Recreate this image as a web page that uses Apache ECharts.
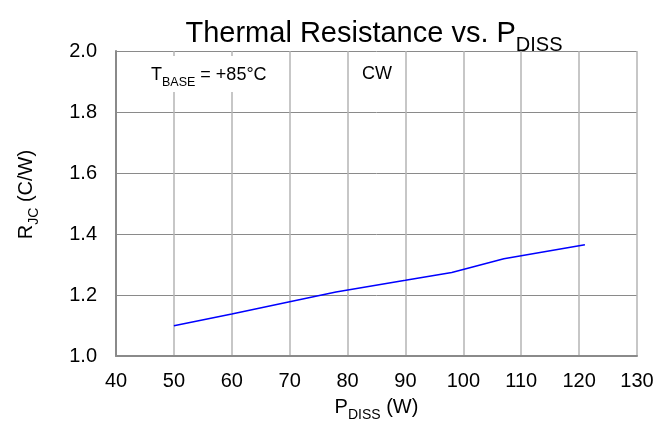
<!DOCTYPE html>
<html>
<head>
<meta charset="utf-8">
<script src="https://cdn.jsdelivr.net/npm/echarts@6/dist/echarts.min.js"></script>
<style>html,body{margin:0;padding:0;background:#fff;}#c{width:672px;height:427px;}</style>
</head>
<body>
<div id="c"></div>
<script>
const xValues = [50, 60, 70, 78, 90, 98, 107, 121];
const rjcValues = [1.099, 1.138, 1.178, 1.21, 1.248, 1.274, 1.319, 1.365];
const xTicks = [40, 50, 60, 70, 80, 90, 100, 110, 120, 130];
const yTicks = [1.0, 1.2, 1.4, 1.6, 1.8, 2.0];

const FONT = 'Liberation Sans, Arial, sans-serif';
const chart = echarts.init(document.getElementById('c'), null, {renderer: 'canvas'});
const data = xValues.map((x, i) => [x, rjcValues[i]]);

function richPair(main, sub, lh, drop) {
  return {
    m: {fontFamily: FONT, fontSize: main, fontWeight: 'normal', color: '#000', verticalAlign: 'bottom', lineHeight: lh},
    s: {fontFamily: FONT, fontSize: sub, fontWeight: 'normal', color: '#000', verticalAlign: 'bottom', lineHeight: lh, padding: [0, 0, -drop, 0]}
  };
}

chart.setOption({
  animation: false,
  backgroundColor: '#fff',
  title: {
    text: '{m|Thermal Resistance vs. P}{s|DISS}',
    left: 369, textAlign: 'center', top: 9,
    textStyle: {rich: richPair(29, 20, 34, 7)}
  },
  grid: {left: 116, right: 35, top: 51, bottom: 67},
  xAxis: {
    type: 'value', min: 40, max: 130, interval: 10,
    name: '{m|P}{s|DISS}{m| (W)}', nameLocation: 'middle', nameGap: 37,
    nameTextStyle: {rich: richPair(20, 14, 24, 5)},
    axisLine: {show: true, onZero: false, lineStyle: {color: '#8a8a8a', width: 2}},
    axisTick: {show: false},
    axisLabel: {fontFamily: FONT, fontSize: 20, color: '#000', margin: 15,
      formatter: v => xTicks.includes(v) ? String(v) : ''},
    splitLine: {show: true, lineStyle: {color: '#b4b4b4', width: 1.5}}
  },
  yAxis: {
    type: 'value', min: 1.0, max: 2.0, interval: 0.2,
    name: '{m|R}{s|JC}{m| (C/W)}', nameLocation: 'middle', nameGap: 80, nameRotate: 90,
    nameTextStyle: {rich: richPair(20, 14, 24, 5), padding: [0, 0, 0, 18]},
    axisLine: {show: true, onZero: false, lineStyle: {color: '#8a8a8a', width: 2}},
    axisTick: {show: false},
    axisLabel: {fontFamily: FONT, fontSize: 20, color: '#000', margin: 19,
      formatter: v => yTicks.some(t => Math.abs(t - v) < 1e-9) ? v.toFixed(1) : ''},
    splitLine: {show: true, lineStyle: {color: '#8a8a8a', width: 1}}
  },
  graphic: [
    {type: 'rect', left: 147, top: 56, shape: {width: 127, height: 36}, style: {fill: '#fff'}, z: 10},
    {type: 'text', left: 151, top: 66, z: 11, style: {
      text: '{m|T}{s|BASE}{m| = +85°C}',
      rich: {
        m: {fontFamily: FONT, fontSize: 18, fill: '#000', verticalAlign: 'bottom', lineHeight: 21},
        s: {fontFamily: FONT, fontSize: 12.5, fill: '#000', verticalAlign: 'bottom', lineHeight: 21, padding: [0, 0, -5, 0]}
      }}},
    {type: 'text', left: 362, top: 65, z: 11, style: {
      text: 'CW', fontFamily: FONT, fontSize: 18, fill: '#000'}}
  ],
  series: [{
    type: 'line', data: data, showSymbol: false, symbol: 'none',
    lineStyle: {color: '#0000ff', width: 1.5}, z: 5
  }]
});
</script>
</body>
</html>
